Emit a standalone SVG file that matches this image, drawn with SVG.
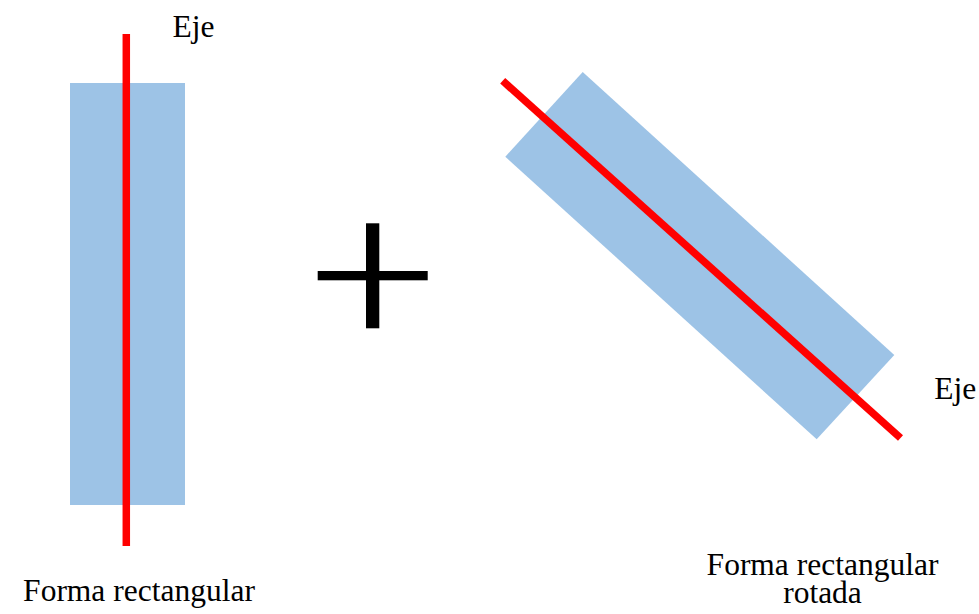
<svg xmlns="http://www.w3.org/2000/svg" width="979" height="614" viewBox="0 0 979 614">
<style>
.shape{fill:#9DC3E6}
.axis{stroke:#FF0000;stroke-width:7.5;fill:none}
text{font-family:Times,'Times New Roman','Liberation Serif','DejaVu Serif',serif;font-size:31.5px;fill:#000}
</style>
<rect width="979" height="614" fill="#fff"/>
<g id="rect-left">
<rect class="shape" x="70" y="83" width="115" height="422"/>
<line class="axis" x1="126.3" y1="34" x2="126.3" y2="546"/>
<text x="172.5" y="37">Eje</text>
<text x="139" y="601" text-anchor="middle">Forma rectangular</text>
</g>
<g id="plus">
<rect x="317.7" y="271" width="110" height="9.3" fill="#000"/>
<rect x="366" y="223.3" width="13.3" height="105" fill="#000"/>
</g>
<g id="rect-rotated">
<polygon class="shape" points="582.7,72 894.3,355 816.7,439.3 505.3,156.7"/>
<line class="axis" x1="502.7" y1="80.8" x2="900.5" y2="438"/>
<text x="934.3" y="399">Eje</text>
<text x="822.5" y="574.5" text-anchor="middle">Forma rectangular</text>
<text x="822.5" y="603" text-anchor="middle">rotada</text>
</g>
<g id="connectors"></g>
</svg>
